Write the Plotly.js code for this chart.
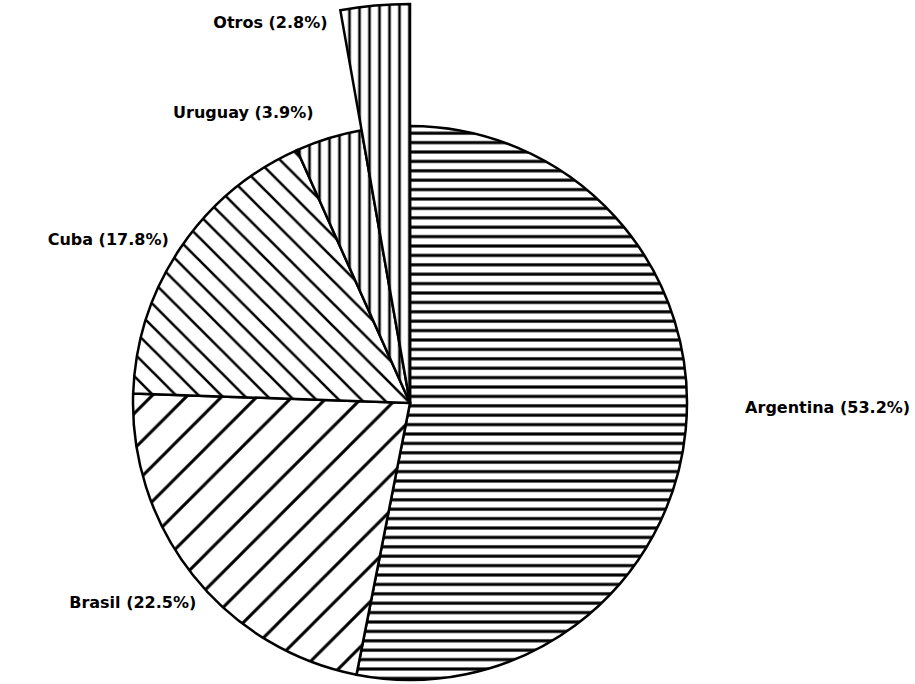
<!DOCTYPE html>
<html>
<head>
<meta charset="utf-8">
<script src="https://cdn.plot.ly/plotly-3.0.1.min.js"></script>
<style>
html,body{margin:0;padding:0;background:#fff;overflow:hidden;}
#frame{position:relative;width:915px;height:684px;overflow:hidden;background:#fff;}
#chart{position:absolute;left:-50px;top:-50px;width:1000px;height:920px;}
</style>
</head>
<body>
<div id="frame"><div id="chart"></div></div>
<script>
// ---- data ----
const countries = ['Argentina', 'Brasil', 'Cuba', 'Uruguay', 'Otros'];
const shares = [53.2, 22.5, 17.8, 3.9, 2.8];
const labelTexts = ['Argentina (53.2%)', 'Brasil (22.5%)', 'Cuba (17.8%)', 'Uruguay (3.9%)', 'Otros (2.8%)'];

// ---- style ----
const sliceRadius = [1, 1, 1, 1, 1.44];          // Otros drawn as an elongated wedge
const labelRadius = [1.21, 1.06, 1.05, 1.10, 1.40];
const labelFrac = [0.476, 0.44, 0.5, 0.4, -0.22]; // where along each slice its label sits
const labelPos = ['middle right', 'middle left', 'middle left', 'middle left', 'middle left'];
const patterns = [
  {shape: '-', size: 9.4, solidity: 0.33},
  {shape: '/', size: 25, solidity: 0.12},
  {shape: '\\', size: 16, solidity: 0.16},
  {shape: '|', size: 10, solidity: 0.26},
  {shape: '|', size: 10, solidity: 0.26}
];

const total = shares.reduce((a, b) => a + b, 0);
const widths = shares.map(v => v / total * 360);
const starts = [];
let acc = 0;
widths.forEach(w => { starts.push(acc); acc += w; });
const mids = starts.map((s, i) => s + widths[i] / 2);
const labelTheta = starts.map((s, i) => s + widths[i] * labelFrac[i]);

const traces = countries.map((c, i) => ({
  type: 'barpolar',
  name: c,
  r: [sliceRadius[i]],
  theta: [mids[i]],
  width: [widths[i]],
  marker: {
    color: '#ffffff',
    line: {color: '#000000', width: 2.5},
    pattern: {shape: patterns[i].shape, size: patterns[i].size, solidity: patterns[i].solidity,
              fgcolor: '#000000', bgcolor: '#ffffff', fillmode: 'replace'}
  },
  hoverinfo: 'name'
}));

traces.push({
  type: 'scatterpolar',
  mode: 'text',
  r: labelRadius,
  theta: labelTheta,
  text: labelTexts,
  textposition: labelPos,
  textfont: {family: 'DejaVu Sans', size: 16, color: '#000000', weight: 'bold'},
  cliponaxis: false,
  hoverinfo: 'skip',
  showlegend: false
});

// figure is larger than the visible frame so the polar area can extend past it
const W = 1000, H = 920, offX = 50, offY = 50;
const cx = 410 + offX, cy = 403 + offY, unitPx = 277, rMax = 1.5;
const half = unitPx * rMax;

const layout = {
  width: W,
  height: H,
  margin: {l: 0, r: 0, t: 0, b: 0},
  paper_bgcolor: '#ffffff',
  showlegend: false,
  polar: {
    domain: {x: [(cx - half) / W, (cx + half) / W], y: [(H - cy - half) / H, (H - cy + half) / H]},
    bgcolor: 'rgba(0,0,0,0)',
    barmode: 'overlay',
    bargap: 0,
    radialaxis: {range: [0, rMax], visible: false, showgrid: false, showline: false},
    angularaxis: {rotation: 90, direction: 'clockwise', visible: false, showgrid: false, showline: false}
  }
};

Plotly.newPlot('chart', traces, layout, {displayModeBar: false, staticPlot: true});
</script>
</body>
</html>
